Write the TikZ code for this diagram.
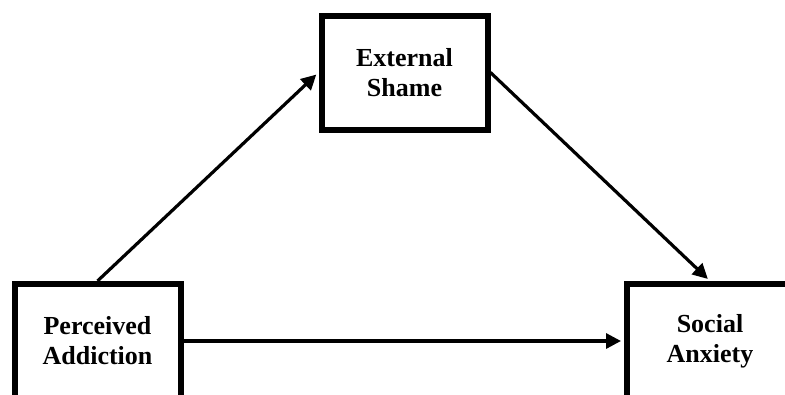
\documentclass[tikz,border=0pt]{standalone}
\usepackage{fontspec}
\setmainfont{Liberation Serif}
\usetikzlibrary{arrows.meta,positioning}
\definecolor{cLine}{HTML}{000000}
\tikzset{
  var/.style ={draw=cLine,line width=6pt,fill=white,align=center,
               minimum width=166pt,minimum height=114pt,inner sep=0pt,
               font=\fontsize{26}{30}\selectfont\bfseries},
  path/.style={-{Triangle[length=15pt,width=15pt]},draw=cLine,line width=3.2pt,
               shorten >=3pt},
}

\begin{document}
\begin{tikzpicture}[x=1pt,y=1pt]
\useasboundingbox (0,0) rectangle (785,-394);
\clip (0,0) rectangle (785,-394);

\node[var] (shame) at (404.5,-72.5) {External\\Shame};
\node[var] (addict) at (97.5,-341)  {Perceived\\Addiction};
\node[var] (anxiety) at (710,-341)  {Social\\Anxiety};

\draw[path] (addict.north) -- (shame.west);
\draw[path] (shame.east) -- (anxiety.north);
\draw[path] (addict.east) -- (anxiety.west);
\end{tikzpicture}
\end{document}
